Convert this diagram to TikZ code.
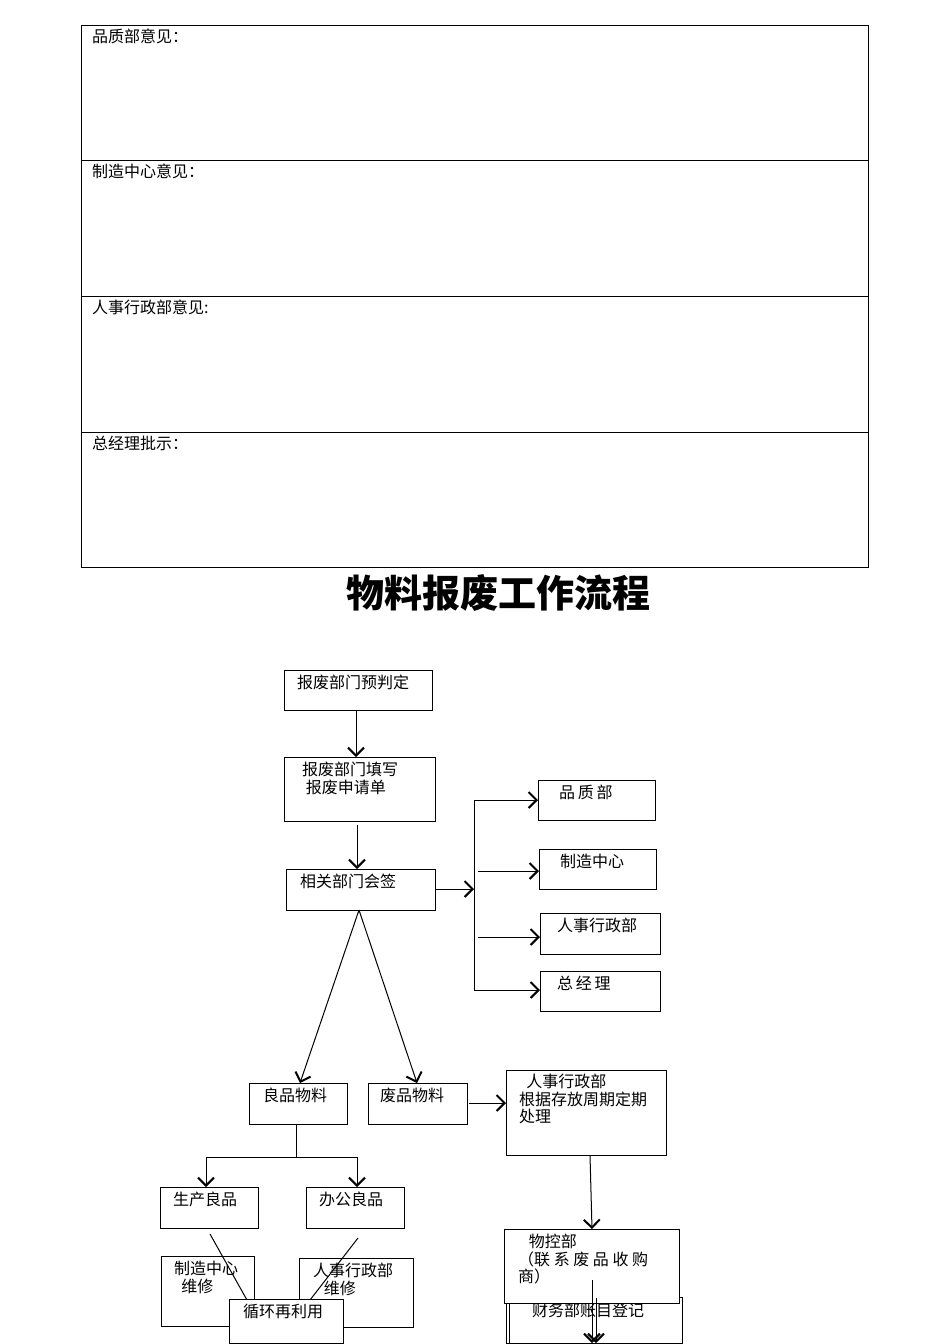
\documentclass[tikz,border=0pt]{standalone}
\usepackage{fontspec}
\setmainfont{Noto Sans CJK SC}
\usetikzlibrary{arrows.meta}
\begin{document}
\begin{tikzpicture}[x=1pt,y=-1pt,
  bx/.style={draw,line width=1pt},
  tx/.style={anchor=north west,inner sep=0pt,align=left,font=\fontsize{16}{17.5}\selectfont},
  ar/.style={-{Straight Barb[length=8pt,width=16pt,line width=2pt]},line width=1pt},
  ln/.style={line width=1pt}]
\useasboundingbox (0,0) rectangle (950,1344);
% table
\draw[line width=0.8pt] (81,25) rectangle (868,567);
\foreach \y in {160,296,432} \draw[line width=0.8pt] (81,\y) -- (868,\y);
\node[tx] (t1) at (92,29) {品质部意见：};
\node[tx] (t2) at (92,164) {制造中心意见：};
\node[tx] (t3) at (92,300) {人事行政部意见:};
\node[tx] (t4) at (92,436) {总经理批示：};
\node[font=\fontsize{38}{42}\selectfont\bfseries] (title) at (498,593) {物料报废工作流程};
% flow boxes
\draw[bx] (284,670) rectangle (432,710); \node[tx] (a) at (297,675) {报废部门预判定};
\draw[bx] (284,757) rectangle (435,821); \node[tx] (b) at (302,762) {报废部门填写\\\ 报废申请单};
\draw[bx] (286,869) rectangle (435,910); \node[tx] (c) at (300,874) {相关部门会签};
\draw[ar] (356,710) -- (356,757);
\draw[ar] (357,825) -- (357,869);
% right
\draw[bx] (538,780) rectangle (655,820); \node[tx] (r1) at (559,785) {品\,质\,部};
\draw[bx] (539,849) rectangle (656,889); \node[tx] (r2) at (560,854) {制造中心};
\draw[bx] (540,913) rectangle (660,954); \node[tx] (r3) at (557,918) {人事行政部};
\draw[bx] (540,971) rectangle (660,1011); \node[tx] (r4) at (557,976) {总\,经\,理};
\draw[ln] (474,800) -- (474,990);
\draw[ar] (435,889) -- (474,889);
\draw[ar] (474,800) -- (538,800);
\draw[ar] (478,871) -- (539,871);
\draw[ar] (478,937) -- (540,937);
\draw[ar] (474,990) -- (540,990);
% split
\draw[ar] (359,910) -- (300,1083);
\draw[ar] (359,910) -- (417,1083);
\draw[bx] (249,1083) rectangle (347,1124); \node[tx] (g) at (263,1088) {良品物料};
\draw[bx] (368,1083) rectangle (467,1124); \node[tx] (w) at (380,1088) {废品物料};
\draw[bx] (506,1070) rectangle (666,1155); \node[tx] (h) at (519,1074) {\ \ 人事行政部\\根据存放周期定期\\处理};
\draw[ar] (469,1103) -- (506,1103);
\draw[ln] (296,1124) -- (296,1157);
\draw[ln] (206,1157) -- (357,1157);
\draw[ar] (206,1157) -- (206,1187);
\draw[ar] (357,1157) -- (357,1187);
\draw[bx] (160,1187) rectangle (258,1228); \node[tx] (p1) at (173,1192) {生产良品};
\draw[bx] (306,1187) rectangle (404,1228); \node[tx] (p2) at (319,1192) {办公良品};
\draw[bx] (161,1256) rectangle (254,1326); \node[tx] (m1) at (174,1261) {制造中心\\\ \ 维修};
\draw[bx] (299,1258) rectangle (413,1327); \node[tx] (m2) at (313,1263) {人事行政部\\\ \ \ 维修};
\draw[ln] (210,1234) -- (247,1300);
\draw[ln] (358,1238) -- (310,1300);
\draw[bx,fill=white] (229,1299) rectangle (343,1343); \node[tx] (rc) at (243,1304) {循环再利用};
% right bottom
\draw[ar] (590,1155) -- (592,1229);
\draw[bx] (506,1297) rectangle (682,1343); \draw[ln] (509,1297) -- (509,1343);
\node[tx] (f) at (532,1303) {财务部账目登记};
\draw[bx,fill=white] (504,1229) rectangle (679,1303);
\node[tx] (k) at (518,1234) {\ \ \ 物控部\\（联\ 系\ 废\ 品\ 收\ 购\\商）};
\draw[ar] (592,1280) -- (592,1343);
\draw[ar] (596,1298) -- (596,1343);
\end{tikzpicture}
\end{document}
